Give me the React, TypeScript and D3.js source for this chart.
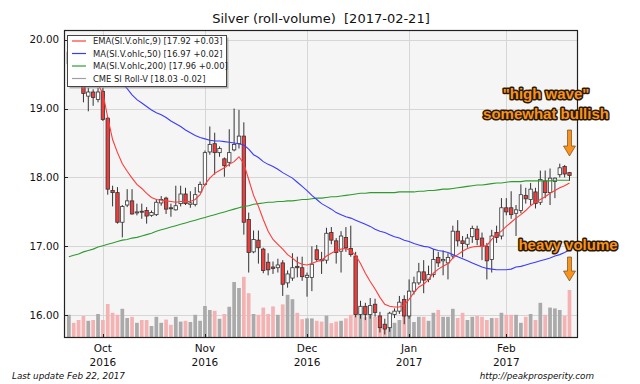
import React, { useEffect, useRef } from 'react';
import * as d3 from 'd3';

// Silver roll-volume candles, one per trading day, 2016-09-22 .. 2017-02-21

const opens = [19.65, 19.82, 19.65, 19.32, 19.18, 19.24, 19.13, 19.25, 18.86, 17.81, 17.78, 17.35, 17.60, 17.66,
  17.49, 17.51, 17.52, 17.45, 17.46, 17.63, 17.70, 17.56, 17.53, 17.62, 17.76, 17.61, 17.61, 17.79,
  17.90, 18.37, 18.49, 18.36, 18.27, 18.22, 18.40, 18.49, 18.60, 17.39, 16.92, 17.09, 16.96, 16.77,
  16.70, 16.69, 16.76, 16.47, 16.54, 16.71, 16.69, 16.55, 16.55, 16.95, 16.81, 16.80, 17.20, 17.08,
  16.93, 17.13, 16.97, 16.86, 16.01, 16.13, 16.01, 16.16, 15.99, 15.87, 15.82, 16.01, 16.06, 16.23,
  15.99, 16.35, 16.47, 16.63, 16.52, 16.59, 16.84, 16.79, 16.76, 16.86, 17.22, 17.08, 17.03, 17.14,
  17.25, 17.12, 17.00, 16.81, 17.20, 17.15, 17.56, 17.56, 17.48, 17.52, 17.74, 17.68, 17.79, 17.64,
  17.95, 17.78, 17.94, 18.04, 18.16, 18.07];
const highs = [19.88, 19.85, 19.72, 19.38, 19.30, 19.28, 19.30, 19.30, 18.88, 17.88, 17.86, 17.60, 17.83, 17.83,
  17.62, 17.62, 17.57, 17.52, 17.68, 17.73, 17.72, 17.62, 17.88, 17.88, 17.85, 17.80, 17.86, 17.94,
  18.39, 18.74, 18.65, 18.45, 18.29, 18.70, 19.00, 18.98, 18.80, 17.49, 17.23, 17.23, 16.98, 16.90,
  16.78, 16.82, 16.80, 16.65, 16.90, 16.85, 16.85, 16.62, 17.00, 17.02, 16.92, 17.27, 17.28, 17.12,
  17.22, 17.28, 17.30, 16.92, 16.21, 16.18, 16.25, 16.24, 16.05, 15.95, 16.05, 16.10, 16.28, 16.29,
  16.52, 16.56, 16.76, 16.80, 16.72, 16.96, 16.92, 16.94, 16.90, 17.30, 17.38, 17.15, 17.18, 17.30,
  17.30, 17.20, 17.05, 17.24, 17.30, 17.70, 17.70, 17.80, 17.60, 17.90, 17.85, 17.92, 17.85, 18.10,
  18.10, 18.13, 18.00, 18.20, 18.18, 18.08];
const lows = [19.60, 19.60, 19.50, 19.09, 18.96, 19.04, 19.09, 18.82, 17.75, 17.58, 17.33, 17.13, 17.57, 17.46,
  17.45, 17.40, 17.33, 17.43, 17.44, 17.59, 17.47, 17.43, 17.52, 17.58, 17.60, 17.56, 17.58, 17.78,
  17.88, 18.33, 18.04, 18.30, 18.01, 18.16, 18.38, 18.42, 17.17, 16.62, 16.90, 16.75, 16.61, 16.58,
  16.60, 16.62, 16.28, 16.40, 16.50, 16.55, 16.50, 16.27, 16.35, 16.78, 16.60, 16.75, 17.03, 16.75,
  16.62, 16.92, 16.85, 15.97, 15.95, 15.93, 15.95, 15.98, 15.75, 15.72, 15.76, 15.96, 16.02, 15.87,
  15.95, 16.30, 16.44, 16.32, 16.48, 16.55, 16.70, 16.58, 16.52, 16.82, 17.00, 16.84, 16.98, 17.05,
  17.02, 16.80, 16.52, 16.62, 17.05, 17.10, 17.45, 17.40, 17.15, 17.48, 17.62, 17.60, 17.55, 17.60,
  17.70, 17.60, 17.70, 18.00, 18.00, 17.95];
const closes = [19.82, 19.65, 19.55, 19.22, 19.24, 19.16, 19.24, 18.84, 17.83, 17.78, 17.35, 17.58, 17.66, 17.47,
  17.50, 17.50, 17.44, 17.49, 17.64, 17.68, 17.54, 17.55, 17.59, 17.76, 17.62, 17.63, 17.75, 17.90,
  18.36, 18.48, 18.36, 18.42, 18.17, 18.36, 18.48, 18.60, 17.35, 16.91, 17.10, 16.98, 16.65, 16.66,
  16.68, 16.73, 16.45, 16.60, 16.69, 16.69, 16.56, 16.58, 16.74, 16.81, 16.79, 17.19, 17.09, 16.91,
  17.15, 16.98, 16.88, 16.01, 16.13, 16.01, 16.14, 16.04, 15.82, 15.80, 16.03, 16.06, 16.19, 15.99,
  16.35, 16.47, 16.63, 16.51, 16.59, 16.81, 16.76, 16.81, 16.84, 17.22, 17.08, 17.04, 17.12, 17.26,
  17.10, 17.00, 16.79, 17.15, 17.13, 17.56, 17.50, 17.46, 17.53, 17.75, 17.69, 17.83, 17.62, 17.97,
  17.78, 17.99, 17.99, 18.14, 18.05, 18.03];
// volume, thousand contracts
const volumes = [58, 38, 45, 55, 43, 45, 60, 45, 85, 63, 58, 73, 50, 53,
  38, 45, 45, 30, 53, 38, 46, 33, 53, 41, 43, 40, 58, 43,
  80, 70, 68, 48, 60, 78, 140, 125, 153, 112, 60, 58, 76, 60,
  79, 58, 84, 108, 97, 63, 47, 49, 49, 43, 41, 56, 37, 41,
  43, 49, 58, 78, 66, 53, 58, 53, 50, 30, 25, 38, 45, 63,
  65, 40, 53, 53, 43, 63, 70, 53, 53, 73, 50, 63, 45, 53,
  55, 53, 45, 50, 50, 63, 58, 58, 58, 38, 53, 60, 45, 88,
  58, 76, 74, 70, 55, 120];

const ema9 = [19.62, 19.63, 19.61, 19.53, 19.47, 19.41, 19.35, 19.22, 18.87, 18.55, 18.36, 18.20, 18.09, 17.99,
  17.90, 17.84, 17.77, 17.71, 17.68, 17.67, 17.66, 17.65, 17.64, 17.65, 17.65, 17.65, 17.68, 17.75,
  17.90, 17.99, 18.06, 18.10, 18.14, 18.19, 18.23, 18.30, 18.20, 17.97, 17.74, 17.58, 17.39, 17.22,
  17.10, 17.03, 16.96, 16.88, 16.83, 16.77, 16.74, 16.73, 16.75, 16.78, 16.80, 16.86, 16.90, 16.94,
  16.96, 16.97, 16.94, 16.87, 16.75, 16.61, 16.49, 16.38, 16.26, 16.16, 16.13, 16.12, 16.12, 16.15,
  16.23, 16.33, 16.41, 16.45, 16.52, 16.61, 16.67, 16.71, 16.75, 16.83, 16.88, 16.93, 16.97, 16.99,
  17.00, 17.00, 17.01, 17.10, 17.17, 17.22, 17.29, 17.35, 17.41, 17.46, 17.52, 17.59, 17.64, 17.68,
  17.72, 17.77, 17.81, 17.85, 17.88, 17.92];
const ma50 = [19.62, 19.61, 19.60, 19.59, 19.58, 19.56, 19.54, 19.51, 19.48, 19.45, 19.41, 19.36, 19.29, 19.20,
  19.13, 19.08, 19.03, 18.98, 18.94, 18.91, 18.87, 18.82, 18.78, 18.74, 18.69, 18.65, 18.61, 18.58,
  18.56, 18.54, 18.53, 18.53, 18.52, 18.51, 18.50, 18.49, 18.47, 18.41, 18.33, 18.29, 18.23, 18.19,
  18.16, 18.12, 18.07, 18.03, 17.99, 17.93, 17.87, 17.81, 17.74, 17.68, 17.62, 17.58, 17.54, 17.49,
  17.46, 17.43, 17.41, 17.38, 17.35, 17.32, 17.29, 17.25, 17.22, 17.20, 17.17, 17.14, 17.12, 17.09,
  17.07, 17.04, 17.02, 17.00, 16.99, 16.96, 16.94, 16.93, 16.91, 16.88, 16.85, 16.82, 16.79, 16.76,
  16.73, 16.70, 16.68, 16.67, 16.66, 16.66, 16.66, 16.67, 16.70, 16.71, 16.73, 16.75, 16.77, 16.79,
  16.81, 16.83, 16.86, 16.88, 16.91, 16.95];
const ma200 = [16.85, 16.87, 16.89, 16.92, 16.94, 16.96, 16.99, 17.01, 17.03, 17.05, 17.07, 17.09, 17.10, 17.12,
  17.13, 17.15, 17.17, 17.19, 17.22, 17.24, 17.26, 17.28, 17.30, 17.32, 17.34, 17.36, 17.38, 17.40,
  17.42, 17.44, 17.46, 17.48, 17.50, 17.52, 17.54, 17.56, 17.58, 17.59, 17.61, 17.62, 17.63, 17.64,
  17.64, 17.65, 17.65, 17.66, 17.66, 17.67, 17.68, 17.68, 17.69, 17.70, 17.70, 17.71, 17.72, 17.72,
  17.73, 17.74, 17.75, 17.76, 17.77, 17.77, 17.78, 17.78, 17.78, 17.78, 17.78, 17.78, 17.79, 17.79,
  17.79, 17.79, 17.80, 17.80, 17.81, 17.81, 17.82, 17.83, 17.83, 17.84, 17.85, 17.86, 17.87, 17.88,
  17.89, 17.89, 17.90, 17.91, 17.92, 17.92, 17.93, 17.94, 17.94, 17.94, 17.95, 17.95, 17.95, 17.95,
  17.95, 17.95, 17.96, 17.96, 17.96, 17.96];

// first trading day of each month
const tickIndex = [7, 28, 49, 70, 90];
const tickMonth = ['Oct', 'Nov', 'Dec', 'Jan', 'Feb'];
const tickYear = ['2016', '2016', '2016', '2017', '2017'];
const priceTicks = [16, 17, 18, 19, 20];

const legendLabels = ['EMA(SI.V.ohlc,9) [17.92 +0.03]', 'MA(SI.V.ohlc,50) [16.97 +0.02]',
  'MA(SI.V.ohlc,200) [17.96 +0.00]', 'CME SI Roll-V [18.03 -0.02]'];
const legendColors = ['#ff3b3b', '#3b3bff', '#2f9a2f', '#a0a0a0'];

export default function App() {
  const ref = useRef<SVGSVGElement>(null);

  useEffect(() => {
    const svg = d3.select(ref.current);
    svg.selectAll('*').remove();

    const left = 64, right = 578, top = 30, bottom = 338;
    const font = 'DejaVu Sans, sans-serif';

    const x = d3.scaleLinear().domain([-1, 104.75]).range([left, right]);
    const y = d3.scaleLinear().domain([15.67, 20.14]).range([bottom, top]);
    const yv = d3.scaleLinear().domain([0, 770]).range([bottom, top]);
    const step = x(1) - x(0);
    const idx = d3.range(closes.length);

    svg.append('rect').attr('width', 640).attr('height', 384).attr('fill', '#fff');
    svg.append('rect').attr('x', left).attr('y', top).attr('width', right - left).attr('height', bottom - top)
      .attr('fill', '#f5f5f5');

    // grid
    const grid = svg.append('g').attr('stroke', '#d6d6d6').attr('stroke-width', 1);
    grid.selectAll('.gy').data(priceTicks).join('line')
      .attr('x1', left).attr('x2', right)
      .attr('y1', d => Math.round(y(d)) + 0.5).attr('y2', d => Math.round(y(d)) + 0.5);
    grid.selectAll('.gx').data(tickIndex).join('line')
      .attr('y1', top).attr('y2', bottom)
      .attr('x1', d => Math.round(x(d)) + 0.5).attr('x2', d => Math.round(x(d)) + 0.5);

    // volume bars
    const vw = step * 0.76;
    svg.append('g').selectAll('rect').data(idx).join('rect')
      .attr('x', i => x(i) - vw / 2)
      .attr('width', vw)
      .attr('y', i => yv(volumes[i]))
      .attr('height', i => bottom - yv(volumes[i]))
      .attr('fill', i => closes[i] < opens[i] ? '#f4b2b2' : '#aaaaaa');

    // candles
    const bw = step * 0.7;
    const candles = svg.append('g');
    candles.selectAll('line').data(idx).join('line')
      .attr('x1', i => x(i)).attr('x2', i => x(i))
      .attr('y1', i => y(highs[i])).attr('y2', i => y(lows[i]))
      .attr('stroke', '#333').attr('stroke-width', 1);
    candles.selectAll('rect').data(idx).join('rect')
      .attr('x', i => x(i) - bw / 2)
      .attr('width', bw)
      .attr('y', i => y(Math.max(opens[i], closes[i])))
      .attr('height', i => Math.max(1, Math.abs(y(opens[i]) - y(closes[i]))))
      .attr('fill', i => closes[i] < opens[i] ? '#f23c3c' : '#fff')
      .attr('stroke', '#333').attr('stroke-width', 0.8);

    // indicator lines
    const line = (vals: number[]) => d3.line<number>().x(i => x(i)).y(i => y(vals[i]))(idx);
    [[ma200, '#2f9a2f'], [ma50, '#3b3bff'], [ema9, '#ff3b3b']].forEach(([vals, c]) => {
      svg.append('path').attr('d', line(vals as number[])).attr('fill', 'none')
        .attr('stroke', c as string).attr('stroke-width', 1.1);
    });

    // frame + ticks
    svg.append('rect').attr('x', left + 0.5).attr('y', top + 0.5).attr('width', right - left - 1)
      .attr('height', bottom - top - 1).attr('fill', 'none').attr('stroke', '#222').attr('stroke-width', 1.2);
    const ticks = svg.append('g').attr('stroke', '#222');
    ticks.selectAll('.ty').data(priceTicks).join('line')
      .attr('x1', left).attr('x2', left + 4)
      .attr('y1', d => Math.round(y(d)) + 0.5).attr('y2', d => Math.round(y(d)) + 0.5);
    ticks.selectAll('.tx').data(tickIndex).join('line')
      .attr('y1', bottom).attr('y2', bottom - 4)
      .attr('x1', d => Math.round(x(d)) + 0.5).attr('x2', d => Math.round(x(d)) + 0.5);

    svg.append('g').selectAll('text').data(priceTicks).join('text')
      .attr('x', left - 5).attr('y', d => y(d) + 3.5)
      .attr('text-anchor', 'end').attr('font-family', font).attr('font-size', 10.3).attr('fill', '#111')
      .text(d => d3.format('.2f')(d));

    const xl = svg.append('g').attr('font-family', font).attr('font-size', 10.5).attr('fill', '#111')
      .attr('text-anchor', 'middle');
    xl.selectAll('.m').data(tickIndex).join('text').attr('x', d => x(d)).attr('y', 352)
      .text((d, k) => tickMonth[k]);
    xl.selectAll('.yr').data(tickIndex).join('text').attr('x', d => x(d)).attr('y', 366)
      .text((d, k) => tickYear[k]);

    // title + footer
    svg.append('text').attr('x', (left + right) / 2).attr('y', 23).attr('text-anchor', 'middle')
      .attr('font-family', font).attr('font-size', 13).attr('fill', '#111')
      .attr('xml:space', 'preserve').style('white-space', 'pre')
      .text('Silver (roll-volume)  [2017-02-21]');
    svg.append('text').attr('x', 12).attr('y', 379).attr('font-family', font).attr('font-size', 8.8)
      .attr('font-style', 'italic').attr('fill', '#111').text('Last update Feb 22, 2017');
    svg.append('text').attr('x', 594).attr('y', 379).attr('text-anchor', 'end').attr('font-family', font)
      .attr('font-size', 8.8).attr('font-style', 'italic').attr('fill', '#111').text('http://peakprosperity.com');

    // legend
    const lg = svg.append('g');
    lg.append('rect').attr('x', 69.5).attr('y', 37.5).attr('width', 159).attr('height', 51).attr('fill', '#888')
      .attr('opacity', 0.6);
    lg.append('rect').attr('x', 67.5).attr('y', 35.5).attr('width', 159).attr('height', 51)
      .attr('fill', '#fff').attr('stroke', '#444').attr('stroke-width', 1);
    legendLabels.forEach((t, k) => {
      const ly = 41 + k * 12.5;
      lg.append('line').attr('x1', 72).attr('x2', 86).attr('y1', ly).attr('y2', ly)
        .attr('stroke', legendColors[k]).attr('stroke-width', 1.2);
      lg.append('text').attr('x', 93).attr('y', ly + 3).attr('font-family', font).attr('font-size', 8.4)
        .attr('fill', '#222').text(t);
    });

    // annotations
    const note = svg.append('g').attr('font-family', 'Liberation Sans, Arial, sans-serif')
      .attr('font-weight', 'bold').attr('font-size', 15).attr('text-anchor', 'middle')
      .attr('fill', '#f7931e').attr('stroke', '#2a1a05').attr('stroke-width', 3)
      .attr('stroke-linejoin', 'round').style('paint-order', 'stroke');
    note.append('text').attr('x', 546).attr('y', 99).text('"high wave"');
    note.append('text').attr('x', 546).attr('y', 119).text('somewhat bullish');
    note.append('text').attr('x', 568).attr('y', 250).text('heavy volume');

    const arrow = (ax: number, y0: number, y1: number) => {
      const hh = 10;
      svg.append('path')
        .attr('d', `M${ax - 2},${y0} L${ax + 2},${y0} L${ax + 2},${y1 - hh} L${ax + 6},${y1 - hh} L${ax},${y1} ` +
          `L${ax - 6},${y1 - hh} L${ax - 2},${y1 - hh} Z`)
        .attr('fill', '#f7931e').attr('stroke', '#5a3a10').attr('stroke-width', 0.6);
    };
    arrow(x(103), 130, 156);
    arrow(x(103), 257, 281);
  }, []);

  return (
    <svg ref={ref} width={640} height={384} style={{ position: 'absolute', left: 0, top: 0 }} />
  );
}
